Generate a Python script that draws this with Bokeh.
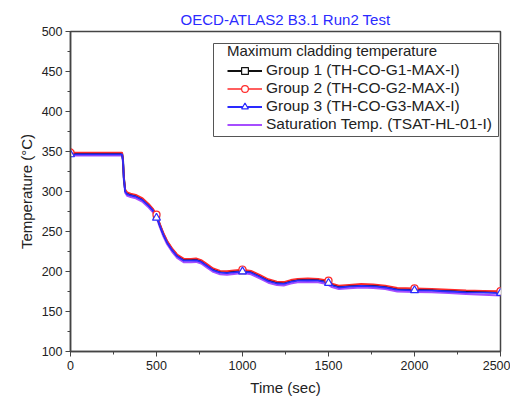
from bokeh.plotting import figure
from bokeh.models import Range1d, Legend, LegendItem, SingleIntervalTicker, BoxAnnotation
from bokeh.embed import file_html
from bokeh.resources import INLINE

# ---- data ----
time = [0, 100, 200, 300, 305, 310, 318, 330, 350, 380,
        420, 455, 480, 504, 520, 540, 562, 590, 620, 660,
        700, 730, 760, 790, 830, 870, 910, 950, 1000, 1050,
        1100, 1150, 1200, 1240, 1280, 1320, 1380, 1440, 1490, 1520,
        1560, 1620, 1690, 1760, 1830, 1900, 2000, 2100, 2200, 2300,
        2400, 2500]

group1 = [347.5, 347.5, 347.5, 347.5, 340, 318, 301, 297.5, 296, 294.5,
          290, 283, 277, 268, 258, 247, 237, 228, 220, 214.5,
          214.5, 215, 213, 208.5, 202.5, 199.5, 199, 200, 201, 199.5,
          194.5, 189, 186, 185.5, 188, 189.5, 190, 189.5, 187.5, 183.5,
          181, 182, 183, 182.5, 181, 178, 177.5, 177, 176, 175,
          174.5, 174]

group2 = [348.8, 348.8, 348.8, 348.8, 341, 319.5, 302.5, 299, 297.5, 296,
          291.5, 284.5, 278.5, 269.5, 259.5, 248.5, 238.5, 229.5, 221.5, 216,
          216, 216.5, 214.5, 210, 204, 201, 200.5, 201.5, 202.5, 201,
          196, 190.5, 187.5, 187, 189.5, 191, 191.5, 191, 189, 185,
          182.5, 183.5, 184.5, 184, 182.5, 179.5, 179, 178.5, 177.5, 176.5,
          176, 175.5]

group3 = [346.3, 346.3, 346.3, 346.3, 339, 317, 300, 296.5, 295, 293.5,
          289, 282, 276, 267, 257, 246, 236, 227, 219, 213.5,
          213.5, 214, 212, 207.5, 201.5, 198.5, 198, 199, 200, 198.5,
          193.5, 188, 185, 184.5, 187, 188.5, 189, 188.5, 186.5, 182.5,
          180, 181, 182, 181.5, 180, 177, 176.5, 176, 175, 174,
          173.5, 173]

tsat = [345, 345, 345, 345, 337, 315, 298.5, 294.5, 293, 291.5,
        287, 280, 274, 265, 255, 244, 234, 225, 217, 211.5,
        211.5, 212, 210, 205.5, 199.5, 196.5, 196, 197, 198, 196.5,
        191.5, 186, 183, 182.5, 185, 186.5, 187, 186.5, 184.5, 180.5,
        178, 179, 180, 179.5, 178, 175, 174.5, 174, 173, 172,
        171, 170]

marker_time = [0, 500, 1000, 1500, 2000, 2500]
group1_mk = [347.5, 269.5, 201, 187, 177.5, 174]
group2_mk = [348.8, 271, 202.5, 188.5, 179, 175.5]
group3_mk = [346.3, 267, 200, 185.5, 176.5, 173]

labels = ["Group 1 (TH-CO-G1-MAX-I)", "Group 2 (TH-CO-G2-MAX-I)",
          "Group 3 (TH-CO-G3-MAX-I)", "Saturation Temp. (TSAT-HL-01-I)"]

FONT = "Liberation Sans"

p = figure(width=510, height=398, output_backend="svg", toolbar_location=None,
           x_range=Range1d(0, 2500), y_range=Range1d(100, 500),
           min_border_left=70, min_border_right=10, min_border_top=31,
           min_border_bottom=46,
           title="OECD-ATLAS2 B3.1 Run2 Test")

p.title.align = "center"
p.title.text_color = "#2b2bff"
p.title.text_font = FONT
p.title.text_font_size = "15px"
p.title.text_font_style = "normal"
p.title.offset = 0
p.title.standoff = 8

p.grid.visible = False
p.outline_line_color = "#444444"
p.outline_line_width = 1.5
p.background_fill_color = "white"
p.border_fill_color = "white"

p.xaxis.ticker = SingleIntervalTicker(interval=500, num_minor_ticks=2)
p.yaxis.ticker = SingleIntervalTicker(interval=50, num_minor_ticks=2)
for ax in (p.xaxis[0], p.yaxis[0]):
    ax.axis_line_color = "#444444"
    ax.axis_line_width = 1.5
    ax.major_tick_line_color = "#444444"
    ax.minor_tick_line_color = "#444444"
    ax.major_tick_in = 0
    ax.major_tick_out = 5
    ax.minor_tick_in = 0
    ax.minor_tick_out = 3
    ax.major_label_text_font = FONT
    ax.major_label_text_font_size = "12.5px"
    ax.major_label_text_color = "#222222"
    ax.axis_label_text_font = FONT
    ax.axis_label_text_font_size = "15px"
    ax.axis_label_text_font_style = "normal"
    ax.axis_label_text_color = "#222222"

p.xaxis.axis_label = "Time (sec)"
p.yaxis.axis_label = "Temperature (°C)"
p.xaxis.major_label_standoff = 4
p.yaxis.major_label_standoff = 3
p.xaxis.axis_label_standoff = 6
p.yaxis.axis_label_standoff = 4

r_sat = p.line(time, tsat, line_color="#a64dff", line_width=2)
r_g1 = p.line(time, group1, line_color="#111111", line_width=2)
r_g2 = p.line(time, group2, line_color="#ff2a2a", line_width=1.6)
r_g3 = p.line(time, group3, line_color="#2a2aff", line_width=1.8)

m_g1 = p.scatter(marker_time, group1_mk, marker="square", size=6,
                 line_color="#111111", fill_color="white", line_width=1.2)
m_g2 = p.scatter(marker_time, group2_mk, marker="circle", size=7,
                 line_color="#ff2a2a", fill_color="white", line_width=1.2)
m_g3 = p.scatter(marker_time, group3_mk, marker="triangle", size=8,
                 line_color="#2a2aff", fill_color="white", line_width=1.2)

# legend frame (screen units, relative to the plot frame: x from left, y from bottom)
box = BoxAnnotation(left=143, right=428, top=308, bottom=215,
                    left_units="screen", right_units="screen",
                    top_units="screen", bottom_units="screen",
                    fill_color="white", fill_alpha=1,
                    line_color="#555555", line_width=1, line_alpha=1,
                    propagate_hover=False, editable=False)
p.add_layout(box)

legend = Legend(items=[
    LegendItem(label=labels[0], renderers=[r_g1, m_g1]),
    LegendItem(label=labels[1], renderers=[r_g2, m_g2]),
    LegendItem(label=labels[2], renderers=[r_g3, m_g3]),
    LegendItem(label=labels[3], renderers=[r_sat]),
], title="Maximum cladding temperature", location=(154, 215))
legend.title_text_font = FONT
legend.title_text_font_size = "15px"
legend.title_text_font_style = "normal"
legend.title_text_color = "#222222"
legend.title_standoff = 2
legend.label_text_font = FONT
legend.label_text_font_size = "15.5px"
legend.label_text_color = "#222222"
legend.label_height = 17
legend.glyph_height = 17
legend.glyph_width = 35
legend.label_standoff = 4
legend.spacing = 0
legend.padding = 3
legend.margin = 0
legend.border_line_alpha = 0
legend.background_fill_alpha = 0
p.add_layout(legend)

open("out.html", "w").write(file_html(p, INLINE))
